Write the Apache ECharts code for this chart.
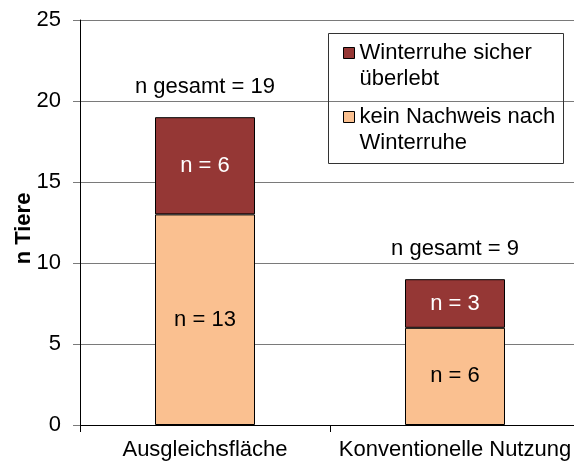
<!DOCTYPE html>
<html>
<head>
<meta charset="utf-8">
<script src="https://cdn.jsdelivr.net/npm/echarts@6/dist/echarts.min.js"></script>
<style>html,body{margin:0;padding:0;background:#fff}#c{width:574px;height:462px}</style>
</head>
<body>
<div id="c"></div>
<script>
var categories = ['Ausgleichsfläche', 'Konventionelle Nutzung'];
var seriesNames = ['Winterruhe sicher\nüberlebt', 'kein Nachweis nach\nWinterruhe'];
var survived = [6, 3];
var noEvidence = [13, 6];
var yTicks = [0, 5, 10, 15, 20, 25];
var totals = categories.map(function (c, i) { return survived[i] + noEvidence[i]; });

var FONT = 'Liberation Sans, Arial, sans-serif';
var FS = 22;
var chart = echarts.init(document.getElementById('c'));
chart.setOption({
  animation: false,
  backgroundColor: '#fff',
  textStyle: { fontFamily: FONT },
  grid: { left: 80, width: 500, top: 20, bottom: 37, containLabel: false, outerBoundsMode: 'none' },
  legend: {
    data: [seriesNames[0], seriesNames[1]],
    orient: 'vertical',
    left: 343, top: 14,
    padding: 0,
    itemWidth: 11, itemHeight: 11,
    itemGap: -14,
    icon: 'rect',
    itemStyle: { borderColor: '#000', borderWidth: 1 },
    formatter: function (name) { return '\n' + name; },
    textStyle: { fontFamily: FONT, fontSize: FS, color: '#000', lineHeight: 26 },
    selectedMode: false
  },
  graphic: [{
    type: 'rect', shape: { x: 328.5, y: 33.5, width: 235, height: 130 },
    style: { fill: 'none', stroke: '#333', lineWidth: 1 }, z: 10
  }],
  xAxis: {
    type: 'category', data: categories,
    axisLine: { lineStyle: { color: '#000', width: 1 } },
    axisTick: { show: true, length: 7, lineStyle: { color: '#000' } },
    axisLabel: { fontFamily: FONT, fontSize: FS, color: '#000', margin: 14, interval: 0, hideOverlap: false }
  },
  yAxis: {
    type: 'value', min: yTicks[0], max: yTicks[yTicks.length - 1], interval: 5,
    name: 'n Tiere', nameLocation: 'middle', nameGap: 45, nameMoveOverlap: false,
    nameTextStyle: { fontFamily: FONT, fontSize: FS, fontWeight: 'bold', color: '#000', padding: [0, 12, 0, 0] },
    axisLine: { show: true, lineStyle: { color: '#000', width: 1 } },
    axisTick: { show: true, length: 7, lineStyle: { color: '#7a7a7a' } },
    axisLabel: { fontFamily: FONT, fontSize: FS, color: '#000', margin: 19 },
    splitLine: { show: true, lineStyle: { color: '#7a7a7a', width: 1 } }
  },
  series: [
    {
      name: seriesNames[1], type: 'bar', stack: 's', barWidth: 100, data: noEvidence,
      itemStyle: { color: '#FAC090', borderColor: '#000', borderWidth: 1 },
      label: { show: true, position: 'inside', formatter: function (p) { return 'n = ' + p.value; },
        fontFamily: FONT, fontSize: FS, color: '#000' }
    },
    {
      name: seriesNames[0], type: 'bar', stack: 's', barWidth: 100, data: survived,
      itemStyle: { color: '#953735', borderColor: '#000', borderWidth: 1 },
      label: { show: true, position: 'inside', formatter: function (p) { return 'n = ' + p.value; },
        fontFamily: FONT, fontSize: FS, color: '#fff' }
    },
    {
      name: 'gesamt', type: 'bar', stack: 's', barWidth: 100, data: totals.map(function () { return 0; }),
      itemStyle: { color: 'rgba(0,0,0,0)', borderWidth: 0 },
      label: { show: true, position: 'top', distance: 19,
        formatter: function (p) { return 'n gesamt = ' + totals[p.dataIndex]; },
        fontFamily: FONT, fontSize: FS, color: '#000' }
    }
  ]
});
</script>
</body>
</html>
